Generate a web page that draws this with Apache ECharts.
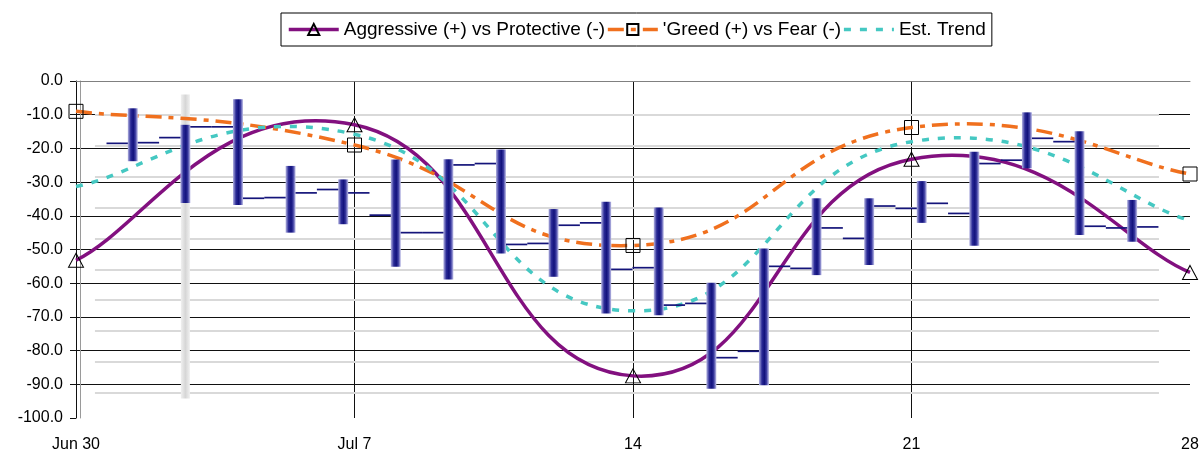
<!DOCTYPE html>
<html><head><meta charset="utf-8">
<script src="https://cdn.jsdelivr.net/npm/echarts@6/dist/echarts.min.js"></script>
<style>html,body{margin:0;padding:0;background:#fff}#c{width:1203px;height:454px}</style>
</head><body><div id="c"></div>
<script>
// ---- data ----
const dayTicks = [0, 7, 14, 21, 28];
const tickLabels = ['Jun 30', 'Jul 7', '14', '21', '28'];
const aggressive = [-53.2, -13.0, -87.5, -23.2, -56.8];
const greed = [-9.0, -19.0, -48.8, -13.8, -27.6];
const trend = [-31.3, -15.8, -68.2, -18.0, -41.4];

const barIndex = [1, 2, 3, 4, 5, 6, 7, 8, 9, 10, 11, 12, 13, 14, 15, 16, 17, 18, 19, 20];
const opens  = [-18.5, -16.8, -13.6, -34.6, -32.2, -39.8, -45.0, -24.5, -48.2, -42.1, -55.4, -66.0, -80.2, -55.6, -46.7, -37.8, -39.3, -23.5, -18.0, -43.6];
const closes = [-18.3, -13.6, -34.8, -33.2, -33.2, -45.0, -24.9, -48.5, -42.8, -55.9, -66.5, -82.1, -55.0, -43.6, -37.1, -36.3, -24.5, -17.0, -43.1, -43.3];
const lows   = [-23.8, -36.2, -36.8, -45.0, -42.5, -55.1, -58.9, -51.2, -58.1, -69.0, -69.5, -91.3, -90.3, -57.6, -54.6, -42.1, -48.9, -25.9, -45.7, -47.7];
const highs  = [-8.1, -13.0, -5.4, -25.2, -29.2, -23.3, -23.2, -20.3, -38.0, -35.8, -37.5, -59.9, -49.7, -34.8, -34.8, -29.7, -21.0, -9.3, -14.9, -35.3];

const highlightIndex = [2];
const highlightLow = [-94.2];
const highlightHigh = [-4.0];

const minorGrid = [-10.1, -19.3, -28.4, -37.6, -46.7, -55.9, -65.0, -74.2, -83.4, -92.4];

// ---- chart ----
const chart = echarts.init(document.getElementById('c'));
const font = "'Liberation Sans', Arial, sans-serif";
const names = ['Aggressive (+) vs Protective (-)', "'Greed (+) vs Fear (-)", 'Est. Trend'];
const colors = ['#82107f', '#f0701e', '#45c8c2'];
const dashes = ['solid', [16, 7, 5, 7], [7, 9]];

const ohlcData = barIndex.map((b, i) => [b, opens[i], closes[i], lows[i], highs[i]]);
const hlData = highlightIndex.map((b, i) => [b, highlightLow[i], highlightHigh[i]]);

function ohlcRender(params, api) {
  const x = api.value(0);
  const pO = api.coord([x, api.value(1)]);
  const pC = api.coord([x, api.value(2)]);
  const pL = api.coord([x, api.value(3)]);
  const pH = api.coord([x, api.value(4)]);
  const half = api.size([1, 0])[0] / 2;
  const w = 10;
  return {
    type: 'group',
    children: [
      { type: 'line', shape: { x1: pO[0] - half, y1: pO[1], x2: pO[0], y2: pO[1] },
        style: { stroke: '#14147a', lineWidth: 1.7 } },
      { type: 'line', shape: { x1: pC[0], y1: pC[1], x2: pC[0] + half, y2: pC[1] },
        style: { stroke: '#14147a', lineWidth: 1.7 } },
      { type: 'rect', shape: { x: pH[0] - w / 2, y: pH[1], width: w, height: pL[1] - pH[1] },
        style: { fill: new echarts.graphic.LinearGradient(0, 0, 1, 0, [
          { offset: 0, color: '#b4b4e2' },
          { offset: 0.3, color: '#2a2a96' },
          { offset: 0.55, color: '#12127c' },
          { offset: 0.75, color: '#3a3aa0' },
          { offset: 1, color: '#c4c4ea' }
        ]) } }
    ]
  };
}

function hlRender(params, api) {
  const x = api.value(0);
  const pL = api.coord([x, api.value(1)]);
  const pH = api.coord([x, api.value(2)]);
  const w = 9;
  return {
    type: 'rect', shape: { x: pH[0] - w / 2, y: pH[1], width: w, height: pL[1] - pH[1] },
    style: { fill: new echarts.graphic.LinearGradient(0, 0, 1, 0, [
      { offset: 0, color: '#f0f0f0' },
      { offset: 0.5, color: '#d6d6d6' },
      { offset: 1, color: '#f0f0f0' }
    ]) }
  };
}

// Smoothed curve (spreadsheet-style spline) drawn through the axis scales
function curvePath(values, k, api) {
  const P = dayTicks.map((d, i) => api.coord([d, values[i]]));
  const n = P.length;
  const at = i => P[Math.max(0, Math.min(n - 1, i))];
  let d = 'M' + P[0][0] + ' ' + P[0][1];
  for (let i = 0; i < n - 1; i++) {
    const p0 = at(i - 1), p1 = at(i), p2 = at(i + 1), p3 = at(i + 2);
    const c1 = [p1[0] + k * (p2[0] - p0[0]), p1[1] + k * (p2[1] - p0[1])];
    const c2 = [p2[0] - k * (p3[0] - p1[0]), p2[1] - k * (p3[1] - p1[1])];
    d += ' C' + c1[0] + ' ' + c1[1] + ' ' + c2[0] + ' ' + c2[1] + ' ' + p2[0] + ' ' + p2[1];
  }
  return d;
}

function curveSeries(idx, values) {
  return {
    name: names[idx] + ' curve', type: 'custom', xAxisIndex: 0, yAxisIndex: 0, z: 2, silent: true,
    encode: { x: 0, y: 1 },
    data: dayTicks.map((d, i) => [d, values[i]]),
    renderItem: (params, api) => {
      if (params.dataIndex !== 0) return null;
      return {
        type: 'path', shape: { pathData: curvePath(values, 0.25, api) },
        style: { fill: null, stroke: colors[idx], lineWidth: 3.5,
          lineDash: dashes[idx] === 'solid' ? null : dashes[idx], lineCap: 'butt' }
      };
    }
  };
}

function markerSeries(idx, values, symbol, size, border) {
  return {
    name: names[idx], type: 'line', xAxisIndex: 0, yAxisIndex: 0, z: 2.2,
    data: dayTicks.map((d, i) => [d, values[i]]),
    symbol: symbol, symbolSize: size, showSymbol: true,
    lineStyle: { color: colors[idx], width: 3.5, type: dashes[idx], opacity: 0 },
    itemStyle: { color: 'rgba(255,255,255,0)', borderColor: border ? '#000' : 'rgba(0,0,0,0)', borderWidth: border ? 1 : 0 }
  };
}

const option = {
  animation: false,
  backgroundColor: '#fff',
  textStyle: { fontFamily: font },
  legend: {
    left: 281, top: 13,
    padding: [7, 6],
    itemWidth: 50, itemHeight: 14, itemGap: 1,
    backgroundColor: '#fff', borderColor: '#000', borderWidth: 1, borderRadius: 0,
    textStyle: { fontSize: 19, color: '#000', fontFamily: font },
    data: names.map((nm, i) => ({
      name: nm,
      lineStyle: { opacity: 1, color: colors[i], width: 3.5, type: dashes[i] }
    }))
  },
  grid: { left: 76, right: 13, top: 81, bottom: 36 },
  xAxis: [
    {
      type: 'value', min: 0, max: 28, interval: 7,
      axisLine: { show: true, lineStyle: { color: '#808080', width: 1 } },
      axisTick: { show: false },
      axisLabel: { fontSize: 16, color: '#000', margin: 19, fontFamily: font,
        formatter: v => { const k = dayTicks.indexOf(v); return k >= 0 ? tickLabels[k] : ''; } },
      splitLine: { show: true, showMinLine: false, showMaxLine: false, lineStyle: { color: '#111', width: 1 } }
    },
    { type: 'value', min: -0.08, max: 21.1, show: false }
  ],
  yAxis: [
    {
      type: 'value', min: -100, max: 0, interval: 10,
      axisLine: { show: true, lineStyle: { color: '#111', width: 1 } },
      axisTick: { show: true, inside: false, length: 6, lineStyle: { color: '#111' } },
      axisLabel: { fontSize: 16, color: '#000', margin: 13, fontFamily: font, formatter: v => v.toFixed(1) },
      splitLine: { show: true, showMinLine: false, lineStyle: { color: '#111', width: 1 } }
    },
    {
      type: 'value', min: -100, max: 0, position: 'right',
      axisLine: { show: true, lineStyle: { color: '#9a9a9a', width: 1 } },
      axisTick: { show: false }, axisLabel: { show: false }, splitLine: { show: false }
    }
  ],
  series: [
    {
      name: 'minor', type: 'line', xAxisIndex: 1, yAxisIndex: 0, data: [], silent: true,
      markLine: {
        z: 1, silent: true, symbol: ['none', 'none'], animation: false,
        label: { show: false },
        lineStyle: { color: '#d9d9d9', width: 2, type: 'solid' },
        emphasis: { disabled: true },
        data: minorGrid.map(v => [{ coord: [0.28, v] }, { coord: [20.51, v] }])
      }
    },
    {
      name: 'highlight', type: 'custom', xAxisIndex: 1, yAxisIndex: 0, z: 1.5, silent: true,
      renderItem: hlRender, encode: { x: 0, y: [1, 2] }, data: hlData
    },
    curveSeries(0, aggressive),
    curveSeries(1, greed),
    curveSeries(2, trend),
    markerSeries(0, aggressive, 'triangle', [15, 14], true),
    markerSeries(1, greed, 'rect', 14, true),
    markerSeries(2, trend, 'rect', 1, false),
    {
      name: 'ohlc', type: 'custom', xAxisIndex: 1, yAxisIndex: 0, z: 3,
      renderItem: ohlcRender, encode: { x: 0, y: [1, 2, 3, 4] }, data: ohlcData
    }
  ]
};
chart.setOption(option);
</script>
</body></html>
